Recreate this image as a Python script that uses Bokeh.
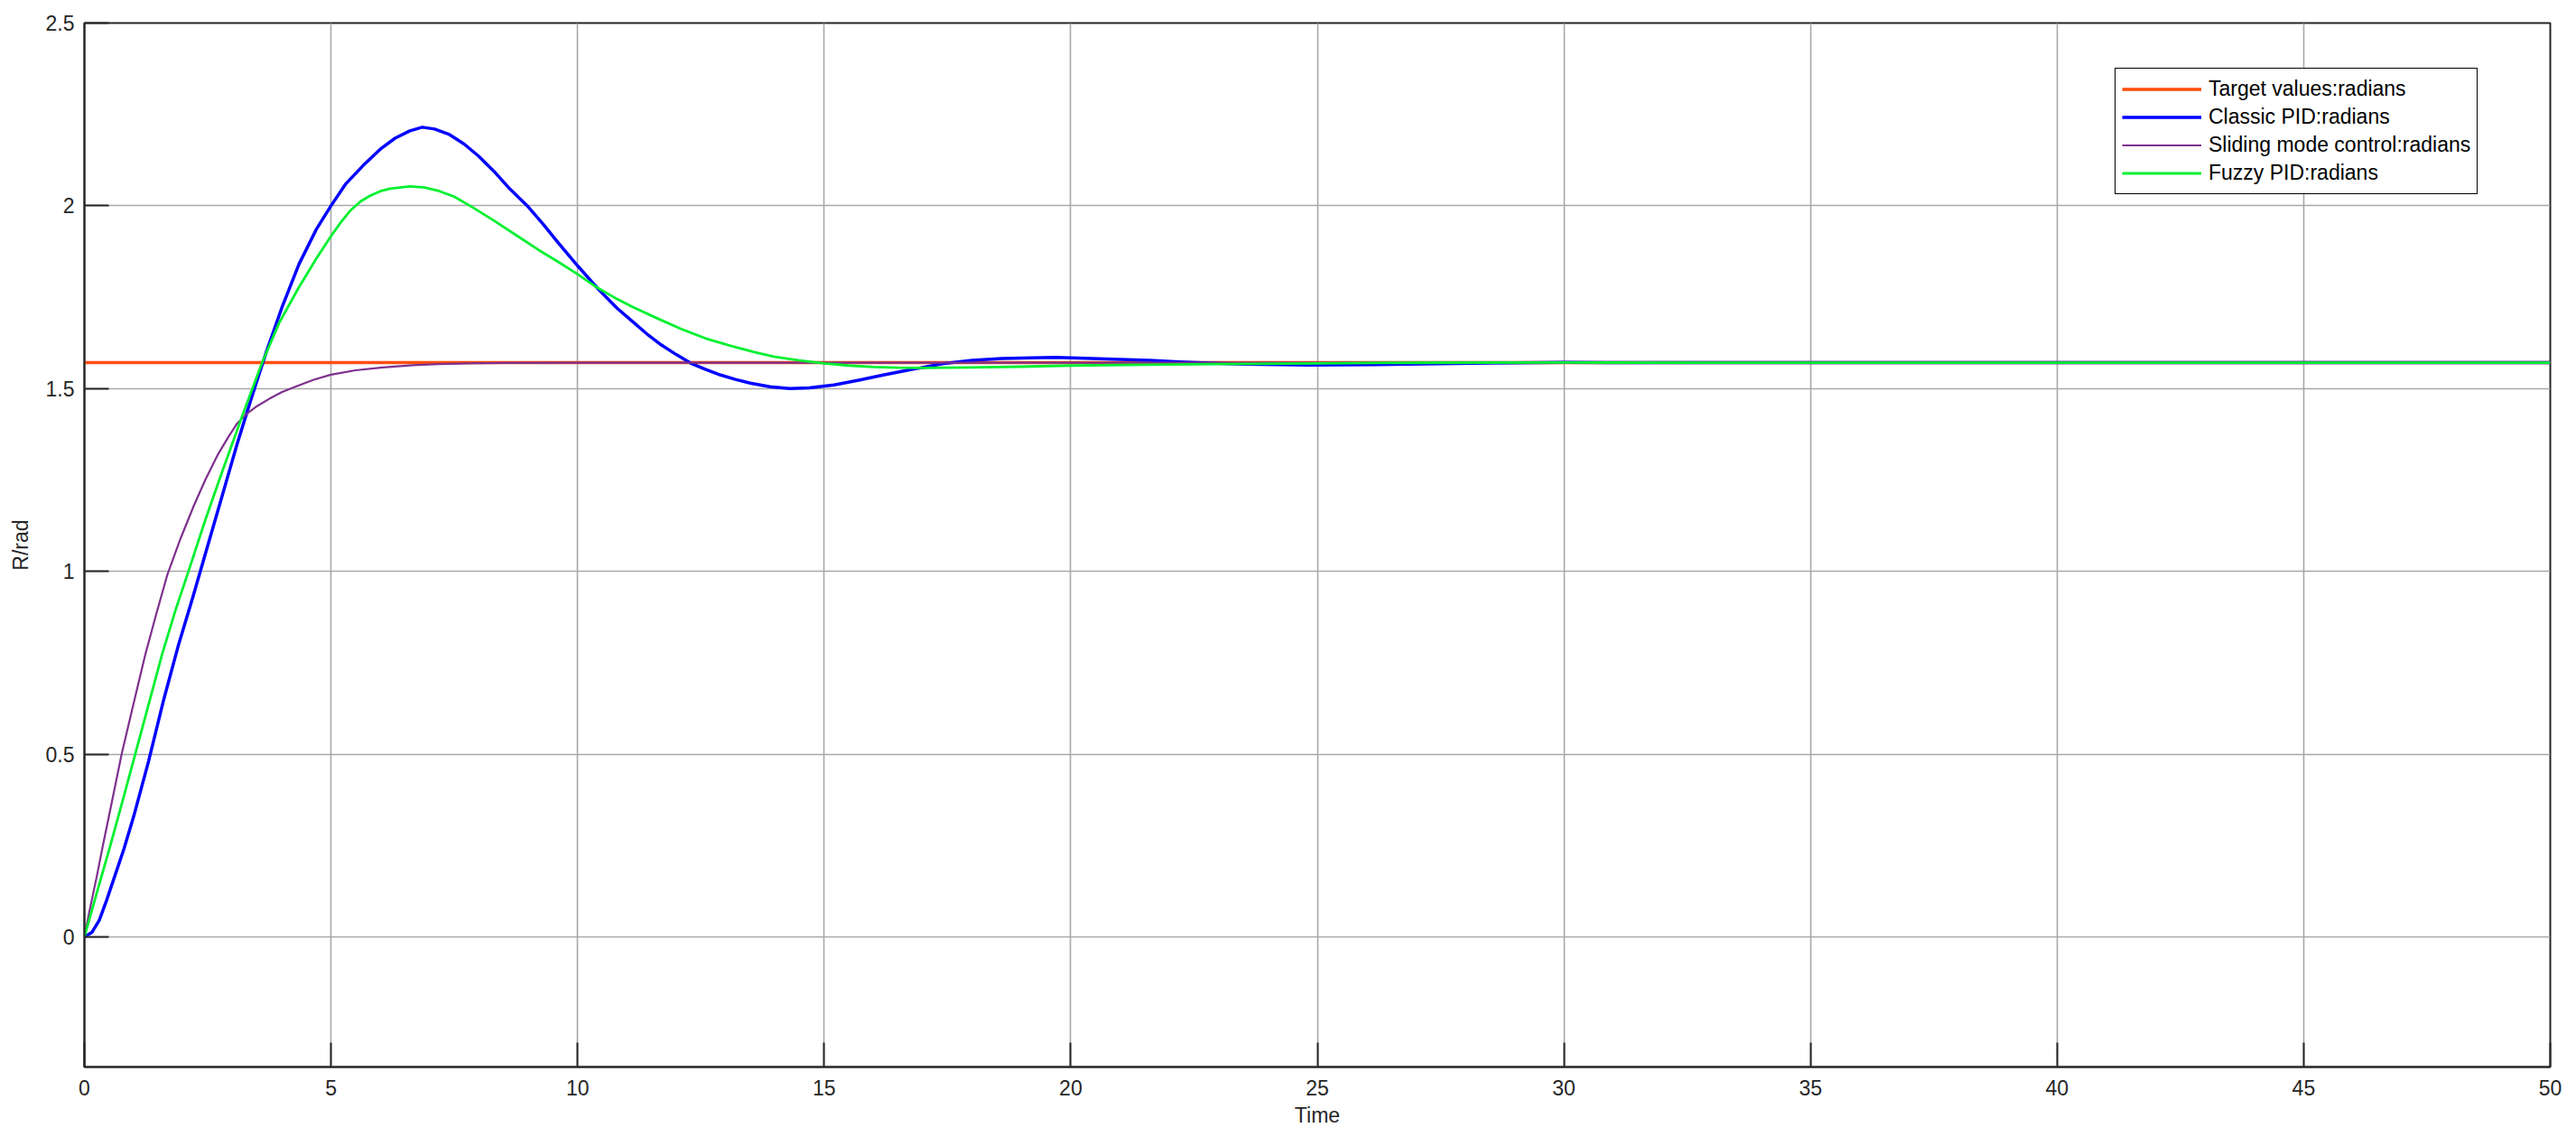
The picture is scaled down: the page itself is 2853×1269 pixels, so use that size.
from bokeh.plotting import figure
from bokeh.models import (Range1d, FixedTicker, CustomJSTickFormatter, Legend, LegendItem)
from bokeh.embed import file_html
from bokeh.resources import INLINE

# ---------------- data ----------------
target_t = [0, 50]
target_v = [1.5708, 1.5708]

pid_t = [0, 0.15, 0.3, 0.45, 0.6, 0.8, 1.0, 1.3, 1.6, 1.9, 2.2, 2.5, 2.8, 3.1, 3.4, 3.7,
         4.0, 4.35, 4.7, 5.0, 5.3, 5.65, 6.0, 6.3, 6.6, 6.85, 7.1, 7.4, 7.7, 8.0, 8.3, 8.6,
         8.98, 9.3, 9.6, 10.0, 10.4, 10.8, 11.1, 11.4, 11.7, 12.0, 12.3, 12.6, 12.9, 13.2,
         13.5, 13.9, 14.3, 14.7, 15.2, 15.7, 16.2, 16.8, 17.4, 18.0, 18.6, 19.2, 19.7, 20.3,
         21.0, 21.6, 22.2, 22.8, 23.5, 24.2, 24.8, 25.5, 26.5, 27.5, 28.5, 30.0, 31.5, 33.0,
         50.0]
pid_v = [0, 0.012, 0.045, 0.1, 0.16, 0.24, 0.33, 0.48, 0.645, 0.795, 0.93, 1.07, 1.21, 1.35,
         1.48, 1.605, 1.72, 1.84, 1.935, 2.0, 2.06, 2.11, 2.155, 2.185, 2.205, 2.215, 2.21,
         2.195, 2.169, 2.135, 2.095, 2.05, 2.0, 1.95, 1.9, 1.836, 1.775, 1.72, 1.685, 1.65,
         1.619, 1.593, 1.569, 1.552, 1.537, 1.525, 1.515, 1.505, 1.50, 1.502, 1.51, 1.523,
         1.537, 1.553, 1.568, 1.577, 1.582, 1.584, 1.585, 1.583, 1.580, 1.577, 1.573, 1.570,
         1.567, 1.5655, 1.5645, 1.565, 1.566, 1.568, 1.570, 1.5715, 1.571, 1.5708, 1.5708]

smc_t = [0, 0.12, 0.25, 0.37, 0.55, 0.755, 1.0, 1.23, 1.45, 1.68, 1.95, 2.22, 2.45, 2.70,
         2.93, 3.1, 3.3, 3.5, 3.75, 4.0, 4.3, 4.65, 5.0, 5.5, 6.05, 6.66, 7.2, 7.8, 8.5, 10.0,
         50.0]
smc_v = [0, 0.082, 0.165, 0.247, 0.365, 0.5, 0.64, 0.77, 0.88, 0.99, 1.09, 1.18, 1.25, 1.318,
         1.37, 1.405, 1.432, 1.452, 1.472, 1.49, 1.506, 1.524, 1.538, 1.55, 1.558, 1.564,
         1.567, 1.569, 1.570, 1.5707, 1.5708]

fuzzy_t = [0, 0.25, 0.52, 0.8, 1.03, 1.3, 1.58, 1.85, 2.11, 2.45, 2.8, 3.2, 3.6, 3.95, 4.34,
           4.7, 4.99, 5.2, 5.4, 5.6, 5.8, 6.0, 6.2, 6.6, 6.9, 7.2, 7.5, 7.88, 8.3, 8.75, 9.2,
           9.6, 10.0, 10.4, 10.8, 11.1, 11.6, 12.1, 12.6, 13.1, 13.6, 14.0, 14.5, 15.0, 15.5,
           16.0, 16.5, 17.0, 18.0, 19.0, 20.0, 21.5, 23.0, 25.0, 27.0, 30.0, 33.0, 50.0]
fuzzy_v = [0, 0.12, 0.247, 0.385, 0.5, 0.635, 0.775, 0.895, 1.0, 1.14, 1.275, 1.425, 1.57,
           1.68, 1.775, 1.855, 1.915, 1.955, 1.988, 2.012, 2.028, 2.04, 2.047, 2.053, 2.05,
           2.04, 2.025, 1.995, 1.96, 1.92, 1.88, 1.847, 1.813, 1.776, 1.745, 1.724, 1.693,
           1.663, 1.637, 1.617, 1.599, 1.587, 1.577, 1.569, 1.563, 1.559, 1.557, 1.5565,
           1.558, 1.560, 1.563, 1.565, 1.567, 1.569, 1.5705, 1.5712, 1.5708, 1.5708]

x_ticks = [0, 5, 10, 15, 20, 25, 30, 35, 40, 45, 50]
y_ticks = [0, 0.5, 1, 1.5, 2, 2.5]

labels = ["Target values:radians", "Classic PID:radians",
          "Sliding mode control:radians", "Fuzzy PID:radians"]

# ---------------- figure ----------------
FONT = "Liberation Sans"
W, H = 2845, 1261
FL, FT, FW, FH = 93, 25, 2731, 1156

p = figure(width=W, height=H, output_backend="svg", toolbar_location=None,
           x_range=Range1d(0, 50), y_range=Range1d(-0.356, 2.5),
           min_border_left=FL, min_border_top=FT,
           min_border_right=W - FL - FW, min_border_bottom=H - FT - FH,
           x_axis_label="Time", y_axis_label="R/rad")
p.outline_line_color = "#262626"
p.outline_line_width = 2
p.outline_line_alpha = 1.0
p.background_fill_color = "white"
p.border_fill_color = "white"

def style_axis(ax, ticks):
    ax.ticker = FixedTicker(ticks=ticks)
    ax.axis_line_color = "#262626"
    ax.axis_line_width = 2
    ax.major_tick_line_color = "#262626"
    ax.major_tick_line_width = 2
    ax.major_tick_in = 27
    ax.major_tick_out = 0
    ax.minor_tick_line_color = None
    ax.major_label_text_font = FONT
    ax.major_label_text_font_size = "23px"
    ax.major_label_text_color = "#262626"
    ax.axis_label_text_font = FONT
    ax.axis_label_text_font_size = "23px"
    ax.axis_label_text_font_style = "normal"
    ax.axis_label_text_color = "#262626"

xa = p.xaxis[0]
ya = p.yaxis[0]
style_axis(xa, x_ticks)
style_axis(ya, y_ticks)
xa.major_label_standoff = 14
xa.axis_label_standoff = 6
ya.major_label_standoff = 11
ya.axis_label_standoff = 12
ya.formatter = CustomJSTickFormatter(code="return String(Math.round(tick*10)/10);")

p.xgrid.ticker = FixedTicker(ticks=x_ticks)
p.ygrid.ticker = FixedTicker(ticks=y_ticks)
for g in (p.xgrid[0], p.ygrid[0]):
    g.grid_line_color = "#a8a8a8"
    g.grid_line_width = 1.6

r0 = p.line(target_t, target_v, line_color="#FF4D0A", line_width=3.5)
r1 = p.line(pid_t, pid_v, line_color="#0000FF", line_width=3.5, line_join="round")
r2 = p.line(smc_t, smc_v, line_color="#7E2F8E", line_width=2.2, line_join="round")
r3 = p.line(fuzzy_t, fuzzy_v, line_color="#00F030", line_width=2.8, line_join="round")

legend = Legend(items=[LegendItem(label=l, renderers=[r]) for l, r in zip(labels, [r0, r1, r2, r3])],
                location=(2249, 966))
legend.label_text_font = FONT
legend.label_text_font_size = "23px"
legend.label_text_color = "#000000"
legend.glyph_width = 88
legend.glyph_height = 31
legend.label_height = 31
legend.label_standoff = 8
legend.spacing = 0
legend.padding = 7
legend.margin = 0
legend.border_line_color = "#000000"
legend.border_line_width = 1.5
legend.border_line_alpha = 1.0
legend.background_fill_color = "white"
legend.background_fill_alpha = 1.0
p.add_layout(legend, "center")

open("out.html", "w").write(file_html(p, INLINE))
